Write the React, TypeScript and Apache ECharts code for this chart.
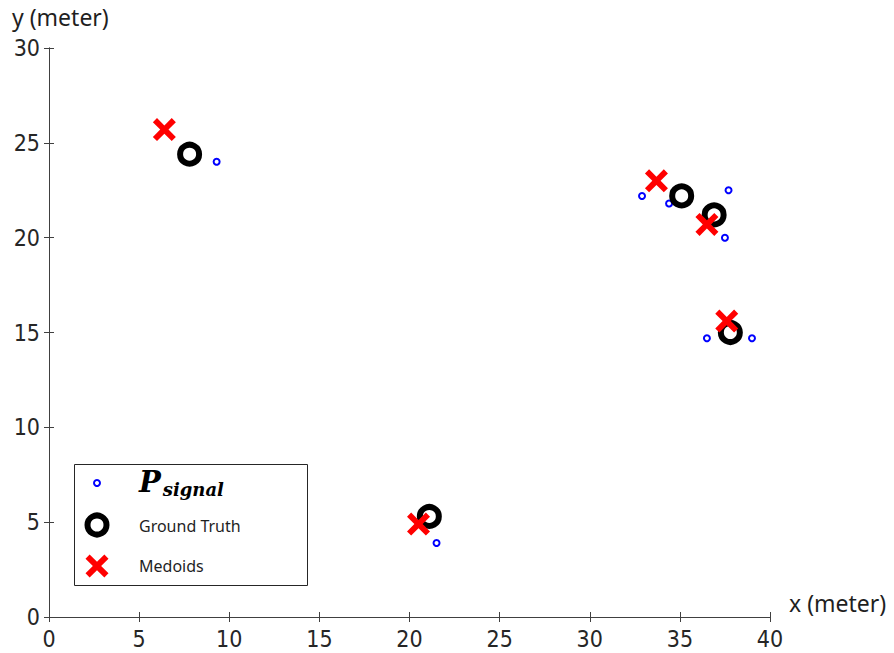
import { useEffect, useRef } from "react";
import * as echarts from "echarts";

// ---- data ----
const xTicks = [0, 5, 10, 15, 20, 25, 30, 35, 40];
const yTicks = [0, 5, 10, 15, 20, 25, 30];

const pSignal: number[][] = [
  [9.3, 24.0],
  [32.9, 22.2],
  [34.4, 21.8],
  [37.7, 22.5],
  [37.5, 20.0],
  [36.5, 14.7],
  [39.0, 14.7],
  [21.5, 3.9],
];
const groundTruth: number[][] = [
  [7.8, 24.4],
  [35.1, 22.2],
  [36.9, 21.2],
  [37.8, 15.0],
  [21.1, 5.3],
];
const medoids: number[][] = [
  [6.4, 25.7],
  [33.7, 23.0],
  [36.5, 20.7],
  [37.6, 15.6],
  [20.5, 4.9],
];

const legendNames = ["Ground Truth", "Medoids"];
const xTitle = "x (meter)";
const yTitle = "y (meter)";

const X_PATH =
  "M0,18 L18,0 L50,32 L82,0 L100,18 L68,50 L100,82 L82,100 L50,68 L18,100 L0,82 L32,50 Z";

let registered = false;
function ensureShape() {
  if (registered) return;
  registered = true;
  echarts.graphic.registerShape("xmark", echarts.graphic.extendPath(X_PATH, {}) as any);
}

export default function App() {
  const ref = useRef<HTMLDivElement>(null);

  useEffect(() => {
    if (!ref.current) return;
    ensureShape();
    const chart = echarts.init(ref.current, undefined, { renderer: "svg" });
    const axisColor = "#404040";
    const tickFont = {
      fontFamily: "Liberation Sans Narrow, DejaVu Sans Condensed, Liberation Sans, sans-serif",
      fontSize: 23,
      color: "#262626",
    };
    const baseX = {
      type: "value" as const,
      min: xTicks[0],
      max: xTicks[xTicks.length - 1],
      interval: 5,
      splitLine: { show: false },
      axisLine: { show: true, lineStyle: { color: axisColor, width: 1 } },
      axisTick: { show: true, inside: true, length: 5, lineStyle: { color: axisColor } },
    };
    const baseY = {
      type: "value" as const,
      min: yTicks[0],
      max: yTicks[yTicks.length - 1],
      interval: 5,
      splitLine: { show: false },
      axisLine: { show: true, lineStyle: { color: axisColor, width: 1 } },
      axisTick: { show: true, inside: true, length: 5, lineStyle: { color: axisColor } },
    };
    const textFont = "Noto Sans, Open Sans, sans-serif";
    chart.setOption({
      animation: false,
      backgroundColor: "#ffffff",
      grid: { left: 49, top: 48, right: 124, bottom: 36, containLabel: false },
      xAxis: [
        { ...baseX, position: "bottom", axisLabel: { ...tickFont, margin: 10 } },
        { ...baseX, position: "top", axisLabel: { show: false } },
      ],
      yAxis: [
        { ...baseY, position: "left", axisLabel: { ...tickFont, margin: 9 } },
        { ...baseY, position: "right", axisLabel: { show: false } },
      ],
      series: [
        {
          name: "P_signal",
          type: "scatter",
          data: pSignal,
          symbol: "circle",
          symbolSize: 6,
          itemStyle: { color: "rgba(0,0,0,0)", borderColor: "#0000ff", borderWidth: 2, opacity: 1 },
          z: 2,
        },
        {
          name: legendNames[0],
          type: "scatter",
          data: groundTruth,
          symbol: "circle",
          symbolSize: 19,
          itemStyle: { color: "rgba(0,0,0,0)", borderColor: "#000000", borderWidth: 6, opacity: 1 },
          z: 3,
        },
        {
          name: legendNames[1],
          type: "scatter",
          data: medoids,
          symbol: "path://" + X_PATH,
          symbolSize: 23,
          itemStyle: { color: "#ff0000", opacity: 1 },
          z: 4,
        },
      ],
      graphic: [
        {
          type: "text",
          left: 12,
          top: 5,
          style: { text: yTitle, font: `23px ${textFont}`, fill: "#1f1f1f" },
        },
        {
          type: "text",
          left: 789,
          top: 591,
          style: { text: xTitle, font: `23px ${textFont}`, fill: "#1f1f1f" },
        },
        {
          type: "group",
          z: 100,
          children: [
            {
              type: "rect",
              shape: { x: 74.5, y: 464.5, width: 233, height: 121 },
              style: { fill: "#ffffff", stroke: "#262626", lineWidth: 1 },
              z: 100,
            },
            {
              type: "circle",
              shape: { cx: 97, cy: 483, r: 3 },
              style: { fill: "none", stroke: "#0000ff", lineWidth: 2 },
              z: 101,
            },
            {
              type: "circle",
              shape: { cx: 97, cy: 525, r: 9.5 },
              style: { fill: "none", stroke: "#000000", lineWidth: 6 },
              z: 101,
            },
            {
              type: "xmark",
              x: 97 - 11.5,
              y: 566 - 11.5,
              scaleX: 0.23,
              scaleY: 0.23,
              style: { fill: "#ff0000" },
              z: 101,
            },
            {
              type: "text",
              x: 139,
              y: 467,
              z: 101,
              style: {
                text: "{p|P}{s|signal}",
                rich: {
                  p: { font: "italic bold 29px DejaVu Serif, serif", fill: "#000", verticalAlign: "bottom" },
                  s: { font: "italic bold 18px DejaVu Serif, serif", fill: "#000", verticalAlign: "bottom", padding: [0, 0, -2, 2] },
                },
              },
            },
            {
              type: "text",
              x: 139,
              y: 526,
              z: 101,
              style: { text: legendNames[0], font: `16px ${textFont}`, fill: "#1f1f1f", verticalAlign: "middle" },
            },
            {
              type: "text",
              x: 139,
              y: 566,
              z: 101,
              style: { text: legendNames[1], font: `16px ${textFont}`, fill: "#1f1f1f", verticalAlign: "middle" },
            },
          ],
        },
      ],
    });
    return () => chart.dispose();
  }, []);

  return (
    <div
      ref={ref}
      style={{ position: "fixed", left: 0, top: 0, width: 894, height: 653, background: "#fff" }}
    />
  );
}
